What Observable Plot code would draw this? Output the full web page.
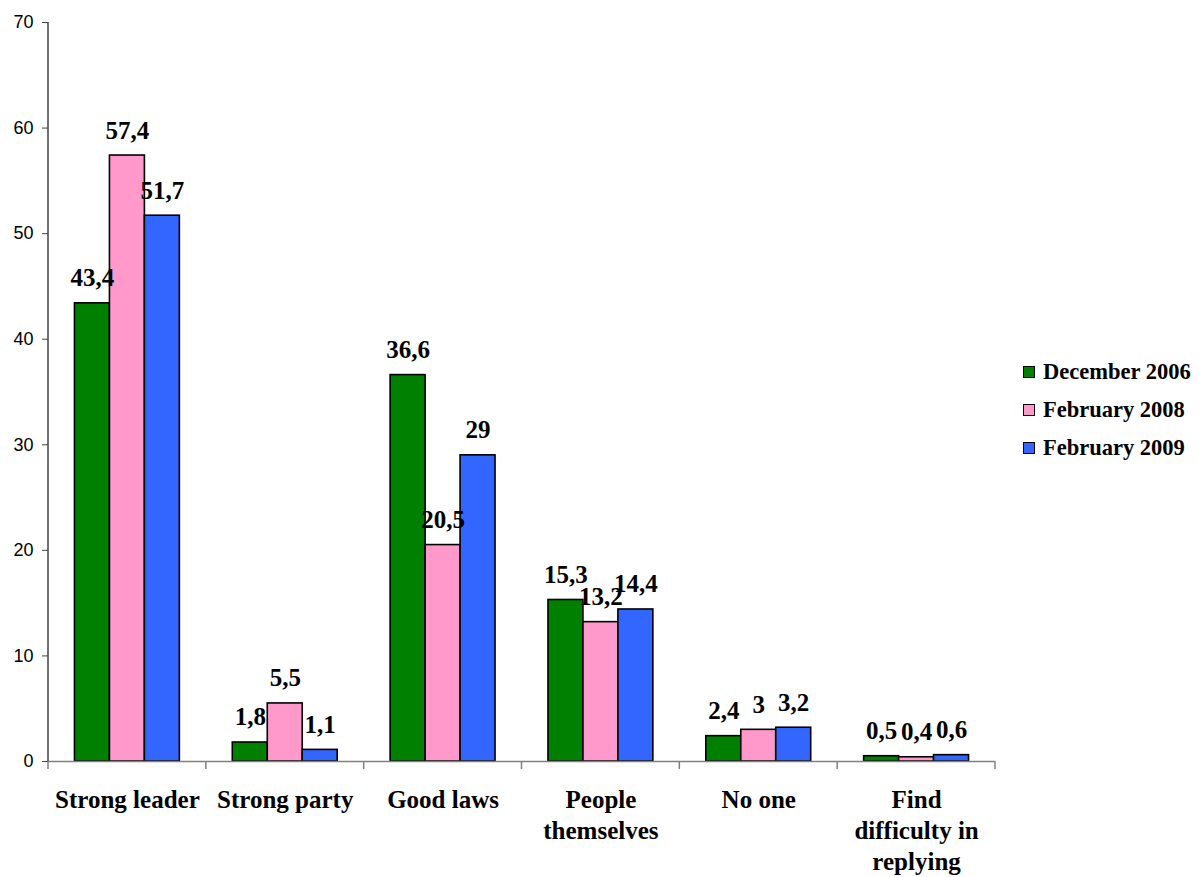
<!DOCTYPE html>
<html><head><meta charset="utf-8">
<script src="https://cdn.jsdelivr.net/npm/d3@7"></script>
<script src="https://cdn.jsdelivr.net/npm/@observablehq/plot@0.6"></script>
<style>
body{margin:0;background:#fff;}
#wrap{position:relative;width:1199px;height:877px;}
#legend{position:absolute;left:1023px;top:353px;font:bold 22.5px "Liberation Serif","Times New Roman",serif;color:#000;}
.item{display:flex;align-items:center;height:38px;}
.sw{width:10px;height:10px;border:1.5px solid #000;margin-right:8px;}
</style></head><body><div id="wrap"><div id="chart"></div><div id="legend"></div></div>
<script>
const categories = ["Strong leader","Strong party","Good laws","People themselves","No one","Find difficulty in replying"];
const categoryLabels = ["Strong leader","Strong party","Good laws","People\nthemselves","No one","Find\ndifficulty in\nreplying"];
const series = ["December 2006","February 2008","February 2009"];
const colors = ["#008000","#FF99CC","#3366FF"];
const dec2006 = [43.4,1.8,36.6,15.3,2.4,0.5];
const feb2008 = [57.4,5.5,20.5,13.2,3,0.4];
const feb2009 = [51.7,1.1,29,14.4,3.2,0.6];
const yTicks = [0,10,20,30,40,50,60,70];

const valuesBySeries = [dec2006, feb2008, feb2009];
const rows = [];
categories.forEach((c, i) => series.forEach((s, j) => rows.push({category: c, series: s, value: valuesBySeries[j][i]})));
const labelOf = new Map(categories.map((c, i) => [c, categoryLabels[i]]));
const fmt = v => String(v).replace(".", ",");
const serif = "'Liberation Serif','Times New Roman',serif";

const plot = Plot.plot({
  width: 1199, height: 877,
  marginLeft: 48, marginRight: 204, marginTop: 22, marginBottom: 116,
  fx: {domain: categories, padding: 0, label: null, axis: null, round: false},
  x: {domain: series, paddingInner: 0, paddingOuter: 0.757, axis: null, label: null, round: false},
  y: {domain: [0, 70], axis: null, label: null},
  color: {domain: series, range: colors},
  style: {background: "white", overflow: "visible"},
  marks: [
    Plot.barY(rows, {fx: "category", x: "series", y: "value", fill: "series", stroke: "#000", strokeWidth: 1.6}),
    Plot.ruleY([0], {stroke: "#808080", strokeWidth: 1.5}),
    Plot.text(rows, {fx: "category", x: "series", y: "value", text: d => fmt(d.value), lineAnchor: "bottom", dy: -17,
      fontFamily: serif, fontSize: 25, fontWeight: "bold", fill: "#000"}),
    Plot.axisY({ticks: yTicks, tickSize: 6, tickPadding: 9, fontSize: 18, fontFamily: "'Liberation Sans',Arial,sans-serif",
      stroke: "#444", fill: "#000", label: null}),
    Plot.axisFx({anchor: "bottom", tickSize: 0, tickPadding: 24, tickFormat: d => labelOf.get(d),
      fontSize: 25, fontFamily: serif, fontWeight: "bold", lineHeight: 1.24, fill: "#000", label: null})
  ]
});
document.getElementById("chart").appendChild(plot);

// axis lines drawn from the library's scales
const fx = plot.scale("fx"), y = plot.scale("y");
const svg = d3.select(plot);
const g = svg.append("g").attr("stroke", "#808080").attr("stroke-width", 1.5);
const y0 = y.apply(0), yTop = y.apply(70);
const x0 = fx.apply(categories[0]);
g.append("line").attr("x1", x0).attr("x2", x0).attr("y1", yTop).attr("y2", y0).attr("stroke", "#444");
const bounds = categories.map(c => fx.apply(c)).concat([fx.apply(categories[categories.length - 1]) + fx.bandwidth]);
bounds.forEach(b => g.append("line").attr("x1", b).attr("x2", b).attr("y1", y0).attr("y2", y0 + 8));

// legend
const legend = d3.select("#legend");
series.forEach((s, i) => {
  const it = legend.append("div").attr("class", "item");
  it.append("div").attr("class", "sw").style("background", colors[i]);
  it.append("span").text(s);
});
</script>
</body></html>
